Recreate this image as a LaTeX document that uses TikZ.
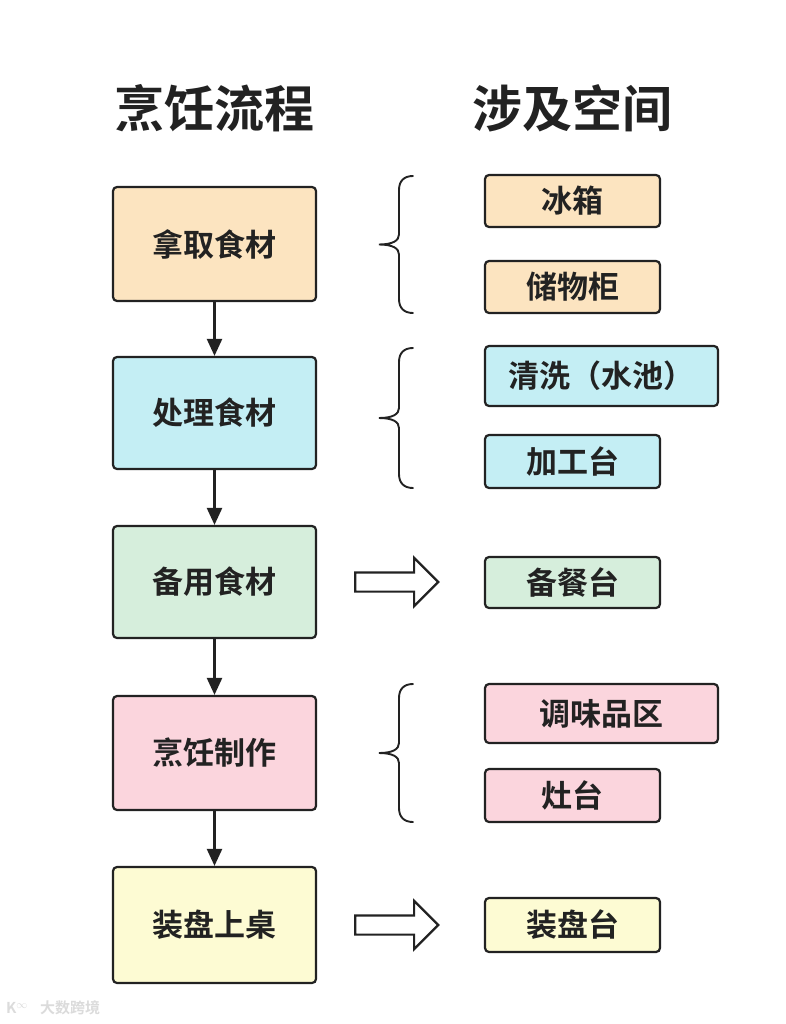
\documentclass[tikz,border=0pt]{standalone}
\usepackage{fontspec}
\setmainfont{Noto Sans CJK SC}[BoldFont={Noto Sans CJK SC Bold}]
\usetikzlibrary{arrows.meta,shapes.arrows,calc}
\definecolor{linec}{HTML}{222222}
\definecolor{textc}{HTML}{222222}
\definecolor{cA}{HTML}{FCE4C0}
\definecolor{cB}{HTML}{C4EEF4}
\definecolor{cC}{HTML}{D6EEDC}
\definecolor{cD}{HTML}{FBD5DD}
\definecolor{cE}{HTML}{FDFBD3}
\newcommand\curlyb[2]{%
  \pgfmathsetmacro\bmid{(#1+#2)/2}%
  \draw[bracestyle] (413,#1) .. controls (404,#1) and (399,{#1+5}) .. (399,{#1+14})
    -- (399,{\bmid-10}) .. controls (399,{\bmid-4}) and (393,\bmid) .. (379,\bmid)
    .. controls (393,\bmid) and (399,{\bmid+4}) .. (399,{\bmid+10})
    -- (399,{#2-14}) .. controls (399,{#2-5}) and (404,#2) .. (413,#2);%
}
\tikzset{
  stage/.style={draw=linec, line width=2.2pt, rounded corners=4pt, minimum width=203pt,
    inner sep=0pt, text=textc, font=\fontsize{31}{31}\selectfont\bfseries},
  space/.style={draw=linec, line width=2.2pt, rounded corners=4pt, minimum width=175pt,
    inner sep=0pt, text=textc, font=\fontsize{31}{31}\selectfont\bfseries},
  spacewide/.style={space, minimum width=233pt},
  title/.style={text=textc, font=\fontsize{50}{50}\selectfont\bfseries, inner sep=0pt},
  flow/.style={draw=linec, line width=2.4pt, -{Triangle[length=17pt,width=15pt]}},
  bracestyle/.style={draw=linec, line width=1.9pt, line cap=round},
  hollow/.style={single arrow, draw=linec, line width=2.2pt, fill=white, inner sep=8.5pt,
    minimum height=83pt, minimum width=46pt, single arrow head extend=14.5pt},
  wmark/.style={text=black!14, font=\fontsize{15}{15}\selectfont\bfseries, inner sep=0pt}
}
\begin{document}
\begin{tikzpicture}[x=1pt,y=-1pt]
\useasboundingbox[fill=white] (0,0) rectangle (786,1024);
% titles
\node[title] (t1) at (214.5,108) {烹饪流程};
\node[title] (t2) at (572.5,108) {涉及空间};
% stages
\node[stage, fill=cA, minimum height=114pt] (b1) at (214.5,244) {拿取食材};
\node[stage, fill=cB, minimum height=112pt] (b2) at (214.5,413) {处理食材};
\node[stage, fill=cC, minimum height=112pt] (b3) at (214.5,582) {备用食材};
\node[stage, fill=cD, minimum height=114pt] (b4) at (214.5,753) {烹饪制作};
\node[stage, fill=cE, minimum height=116pt] (b5) at (214.5,925) {装盘上桌};
% flow arrows
\draw[flow] (b1.south) -- (b2.north);
\draw[flow] (b2.south) -- (b3.north);
\draw[flow] (b3.south) -- (b4.north);
\draw[flow] (b4.south) -- (b5.north);
% spaces
\node[space, fill=cA, minimum height=52pt] (r1) at (572.5,201) {冰箱};
\node[space, fill=cA, minimum height=52pt] (r2) at (572.5,287) {储物柜};
\node[spacewide, fill=cB, minimum height=60pt] (r3) at (601.5,376) {清洗（水池）};
\node[space, fill=cB, minimum height=53pt] (r4) at (572.5,461.5) {加工台};
\node[space, fill=cC, minimum height=51pt] (r5) at (572.5,582.5) {备餐台};
\node[spacewide, fill=cD, minimum height=59pt] (r6) at (601.5,713.5) {调味品区};
\node[space, fill=cD, minimum height=53pt] (r7) at (572.5,795.5) {灶台};
\node[space, fill=cE, minimum height=54pt] (r8) at (572.5,925) {装盘台};
% braces
\curlyb{176}{313}
\curlyb{348}{488}
\curlyb{684}{822}
% hollow arrows
\node[hollow, anchor=tail] (h1) at ($(b3.east)+(37,0)$) {};
\node[hollow, anchor=tail] (h2) at ($(b5.east)+(37,0)$) {};
% watermark
\node[wmark, anchor=west] (wl) at (6,1008) {K$^{\infty}$};
\node[wmark, anchor=west] (wt) at (40,1008) {大数跨境};
\end{tikzpicture}
\end{document}
